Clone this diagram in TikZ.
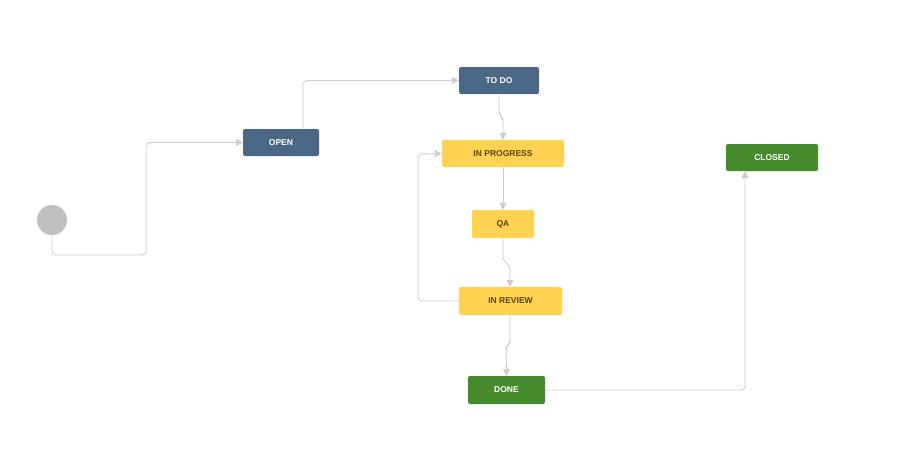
\documentclass[tikz,border=0pt]{standalone}
\usepackage{fontspec}
\setmainfont{Liberation Sans}
\usetikzlibrary{arrows.meta}
\definecolor{jblue}{HTML}{4A6785}
\definecolor{jyellow}{HTML}{FFD351}
\definecolor{jytext}{HTML}{594300}
\definecolor{jgreen}{HTML}{468A2E}
\definecolor{jline}{HTML}{CCCCCC}
\tikzset{
 st/.style={rectangle,rounded corners=2pt,inner sep=0pt,font=\fontsize{8.5}{10}\selectfont\bfseries},
 sblue/.style={st,fill=jblue,text=white},
 syellow/.style={st,fill=jyellow,text=jytext},
 sgreen/.style={st,fill=jgreen,text=white},
 conn/.style={draw=jline,line width=0.9pt,rounded corners=4pt,-{Triangle[width=7pt,length=7pt]}},
}
\begin{document}
\begin{tikzpicture}[x=1pt,y=-1pt]
\useasboundingbox (0,0) rectangle (904,464);
\node[circle,fill=black!25,minimum size=30pt,inner sep=0pt] (start) at (52,220) {};
\node[sblue,minimum width=76pt,minimum height=27pt] (open) at (281,142.5) {OPEN};
\node[sblue,minimum width=80pt,minimum height=27pt] (todo) at (499,80.5) {TO DO};
\node[syellow,minimum width=122pt,minimum height=27pt] (ip) at (503,153.5) {IN PROGRESS};
\node[syellow,minimum width=62pt,minimum height=28pt] (qa) at (503,224) {QA};
\node[syellow,minimum width=103pt,minimum height=28pt] (ir) at (510.5,301) {IN REVIEW};
\node[sgreen,minimum width=77pt,minimum height=28pt] (done) at (506.5,390) {DONE};
\node[sgreen,minimum width=92pt,minimum height=27pt] (closed) at (772,157.5) {CLOSED};
\draw[conn] (start.south) |- (146,255) |- (open.west);
\draw[conn] (open.north -| 303,0) |- (todo.west);
\draw[conn] (499,94) -- (499,114) -- (503,118) -- (ip.north);
\draw[conn] (ip.south) -- (qa.north);
\draw[conn] (503,238) -- (503,261) -- (510,265) -- (510,287);
\draw[conn] (ir.west) -| (418,154) -- (ip.west);
\draw[conn] (510,315) -- (510,343) -- (506,347) -- (done.north);
\draw[conn] (done.east) -| (745,171);
\end{tikzpicture}
\end{document}
